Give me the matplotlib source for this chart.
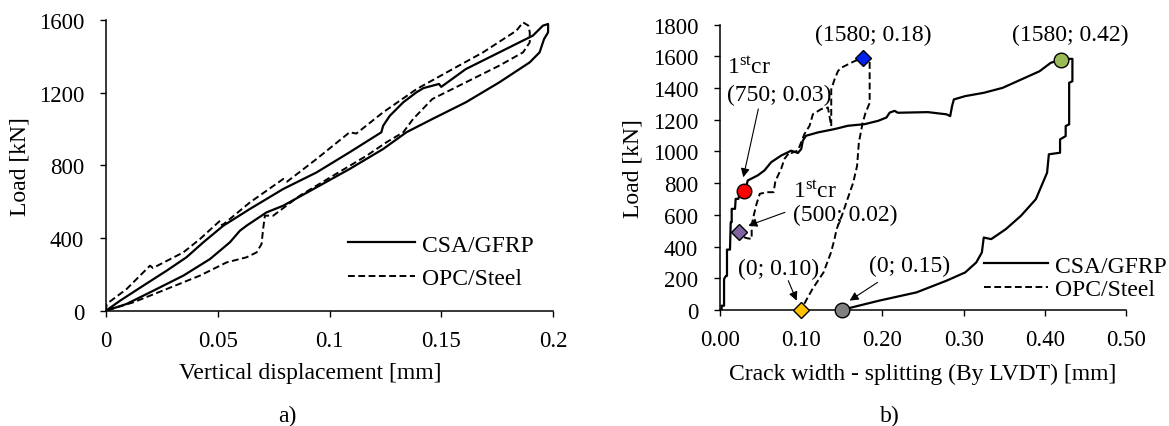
import numpy as np
import matplotlib
matplotlib.use('Agg')
import matplotlib.pyplot as plt

plt.rcParams['font.family'] = ['Liberation Serif', 'DejaVu Serif']
plt.rcParams['mathtext.default'] = 'regular'
plt.rcParams['font.size'] = 17

# ---- a) load vs vertical displacement ----
csa_disp = [0, 0.0063, 0.0167, 0.0271, 0.036, 0.0435, 0.0525, 0.0644, 0.0793, 0.0942, 0.109, 0.1232,
            0.124, 0.127, 0.133, 0.1389, 0.142, 0.149, 0.150, 0.161, 0.176, 0.191, 0.1955, 0.1978, 0.1978,
            0.196, 0.194, 0.1896, 0.176, 0.161, 0.146, 0.1344, 0.124, 0.109, 0.0942, 0.0793, 0.0718,
            0.0629, 0.0599, 0.0554, 0.0465, 0.0346, 0.0197, 0.0092, 0]
csa_load = [0, 55, 138, 220, 294, 376, 468, 560, 670, 761, 872, 982,
            1018, 1073, 1147, 1202, 1225, 1248, 1232, 1330, 1422, 1514, 1569, 1578, 1532,
            1495, 1422, 1367, 1257, 1147, 1055, 982, 890, 780, 679, 578, 541,
            468, 440, 376, 284, 193, 101, 37, 0]

opc_disp = [0, 0.0003, 0.0092, 0.0197, 0.021, 0.0346, 0.042, 0.051, 0.052, 0.0644, 0.0793, 0.081,
            0.0942, 0.109, 0.112, 0.124, 0.139, 0.1538, 0.1687, 0.1836, 0.1866, 0.189, 0.1896, 0.1896,
            0.1866, 0.176, 0.161, 0.146, 0.1374, 0.133, 0.1255, 0.1166, 0.1016, 0.0867, 0.0748,
            0.0711, 0.0703, 0.0696, 0.0674, 0.0629, 0.054, 0.042, 0.0271, 0.0122, 0]
opc_load = [0, 37, 119, 248, 235, 321, 394, 495, 470, 596, 725, 710,
            835, 982, 975, 1092, 1220, 1321, 1422, 1541, 1587, 1569, 1532, 1477,
            1422, 1349, 1257, 1165, 1055, 982, 927, 853, 743, 633, 523,
            523, 450, 367, 321, 294, 266, 193, 119, 46, 0]

# ---- b) load vs crack width ----
csa_crack = [0.002, 0.002, 0.005, 0.005, 0.0074, 0.0086, 0.0086, 0.0123, 0.0132, 0.0144, 0.0144,
             0.0185, 0.0193, 0.0226, 0.0247, 0.0309, 0.0342, 0.0465, 0.0547, 0.063, 0.0753, 0.0877,
             0.0959, 0.1, 0.102, 0.106, 0.1206, 0.141, 0.1576, 0.178, 0.1947, 0.205, 0.209, 0.215,
             0.219, 0.256, 0.279, 0.2835, 0.2858, 0.288, 0.302, 0.325, 0.348, 0.3706, 0.3936, 0.4073,
             0.4197, 0.430, 0.434, 0.434, 0.430, 0.430, 0.4257, 0.4257, 0.4188, 0.4188, 0.405, 0.4028,
             0.389, 0.3706, 0.352, 0.334, 0.3248, 0.3225, 0.3156, 0.302, 0.279, 0.242, 0.196, 0.1495]
csa_crack_load = [0, 27, 27, 196, 215, 215, 381, 381, 554, 554, 638,
                  638, 701, 701, 743, 751, 817, 849, 880, 932, 974, 1005,
                  990, 1015, 1068, 1099, 1120, 1141, 1162, 1172, 1193, 1214, 1245, 1256,
                  1244, 1248, 1234, 1223, 1286, 1328, 1349, 1370, 1401, 1453, 1506, 1559,
                  1578, 1584, 1584, 1443, 1433, 1171, 1160, 1097, 1076, 992, 982, 866,
                  699, 594, 510, 447, 457, 363, 300, 237, 185, 111, 59, 0]

opc_crack = [0.0206, 0.0247, 0.033, 0.039, 0.039, 0.041, 0.045, 0.049, 0.0576, 0.066, 0.068,
             0.0695, 0.0753, 0.0794, 0.0856, 0.0877, 0.0959, 0.104, 0.1103, 0.1144, 0.1247, 0.1329,
             0.1370, 0.1370, 0.1411, 0.1453, 0.1494, 0.1576, 0.1658, 0.1753, 0.1843, 0.1843,
             0.1790, 0.1757, 0.171, 0.1688, 0.164, 0.157, 0.150, 0.1436, 0.141, 0.1367, 0.1275,
             0.1138, 0.0995]
opc_crack_load = [501, 469, 453, 448, 533, 585, 669, 733, 743, 743, 806,
                  827, 890, 953, 995, 990, 1005, 1110, 1162, 1235, 1267, 1277,
                  1160, 1392, 1455, 1507, 1528, 1549, 1570, 1587, 1570, 1306,
                  1240, 1181, 1055, 908, 803, 699, 594, 510, 447, 363, 237,
                  132, 0]

# marked points on b)
marks_x = [0.030, 0.024, 0.1757, 0.420, 0.100, 0.150]
marks_y = [750, 490, 1589, 1578, 0, 0]
marks_c = ['#FF0000', '#8064A2', '#0022EE', '#9BBB59', '#FFC000', '#808080']
marks_m = ['o', 'D', 'D', 'o', 'D', 'o']

W, H = 1169, 427
fig = plt.figure(figsize=(W / 100, H / 100), dpi=100)
ax1 = fig.add_axes([106 / W, 1 - 311.7 / H, 447 / W, 290.7 / H])
ax2 = fig.add_axes([720 / W, 1 - 311 / H, 406 / W, 285.4 / H])

dash = (0, (3.5, 1.8))
for ax in (ax1, ax2):
    ax.spines['top'].set_visible(False)
    ax.spines['right'].set_visible(False)
    ax.tick_params(direction='out', length=4.2, width=1, labelsize=16.5)
    ax.tick_params(axis='x', pad=9.5)
    ax.tick_params(axis='y', pad=11.5)
    ax.spines['left'].set_linewidth(1.1)
    ax.spines['bottom'].set_linewidth(1.1)

ax1.plot(csa_disp, csa_load, color='black', lw=1.6, label='CSA/GFRP')
ax1.plot(opc_disp, opc_load, color='black', lw=1.4, ls=dash, label='OPC/Steel')
ax1.set_xlim(0, 0.2)
ax1.set_ylim(0, 1600)
ax1.set_xticks([0, 0.05, 0.1, 0.15, 0.2])
ax1.set_xticklabels(['0', '0.05', '0.1', '0.15', '0.2'])
ax1.set_yticks(np.arange(0, 1601, 400))
ax1.set_xlabel('Vertical displacement [mm]', fontsize=17, va='center')
ax1.xaxis.set_label_coords(310 / W, 1 - 374 / H, transform=fig.transFigure)
ax1.set_ylabel('Load [kN]', fontsize=17, va='center')
ax1.yaxis.set_label_coords(20 / W, 1 - 167 / H, transform=fig.transFigure)
ax1.legend(frameon=False, loc='upper left', bbox_to_anchor=(348 / W, 1 - 235 / H),
           bbox_transform=fig.transFigure, borderpad=0, borderaxespad=0, handlelength=2.85,
           fontsize=17, labelspacing=0.5, handletextpad=0.3)

ax2.plot(csa_crack, csa_crack_load, color='black', lw=1.6, label='CSA/GFRP', zorder=2)
ax2.plot(opc_crack, opc_crack_load, color='black', lw=1.4, ls=dash, label='OPC/Steel', zorder=2)
for x, y, c, m in zip(marks_x, marks_y, marks_c, marks_m):
    ax2.plot(x, y, marker=m, color=c, markeredgecolor='black', markeredgewidth=1,
             markersize=10.5 if m == 'o' else 8.5, ls='none', zorder=5, clip_on=False)
ax2.set_xlim(0, 0.5)
ax2.set_ylim(0, 1800)
ax2.set_xticks(np.arange(0, 0.51, 0.1))
ax2.set_xticklabels(['%.2f' % v for v in np.arange(0, 0.51, 0.1)])
ax2.set_yticks(np.arange(0, 1801, 200))
ax2.set_xlabel('Crack width - splitting (By LVDT) [mm]', fontsize=17, va='center')
ax2.xaxis.set_label_coords(923 / W, 1 - 374 / H, transform=fig.transFigure)
ax2.set_ylabel('Load [kN]', fontsize=17, va='center')
ax2.yaxis.set_label_coords(633 / W, 1 - 169 / H, transform=fig.transFigure)
ax2.legend(frameon=False, loc='upper left', bbox_to_anchor=(984 / W, 1 - 256 / H),
           bbox_transform=fig.transFigure, borderpad=0, borderaxespad=0, handlelength=2.7,
           fontsize=17, labelspacing=0.1, handletextpad=0.3)

arrow = dict(arrowstyle='-|>', color='black', lw=0.8, mutation_scale=13, shrinkA=0, shrinkB=0)
ax2.text(0.0086, 1533, r'1$^{st}$cr', ha='left', va='center', fontsize=17)
ax2.text(0.0086, 1362, '(750; 0.03)', ha='left', va='center', fontsize=17)
ax2.annotate('', xy=(0.0287, 837), xytext=(0.0472, 1268), arrowprops=arrow)
ax2.text(0.0899, 752, r'1$^{st}$cr', ha='left', va='center', fontsize=17)
ax2.text(0.0899, 605, '(500; 0.02)', ha='left', va='center', fontsize=17)
ax2.annotate('', xy=(0.0349, 532), xytext=(0.080, 616), arrowprops=arrow)
ax2.text(0.189, 1741, '(1580; 0.18)', ha='center', va='center', fontsize=17)
ax2.text(0.431, 1741, '(1580; 0.42)', ha='center', va='center', fontsize=17)
ax2.text(0.0727, 265, '(0; 0.10)', ha='center', va='center', fontsize=17)
ax2.annotate('', xy=(0.0944, 59), xytext=(0.0841, 185), arrowprops=arrow)
ax2.text(0.233, 280, '(0; 0.15)', ha='center', va='center', fontsize=17)
ax2.annotate('', xy=(0.1596, 59), xytext=(0.194, 174), arrowprops=arrow)

fig.text(287 / W, 1 - 416 / H, 'a)', ha='center', va='center', fontsize=17)
fig.text(890 / W, 1 - 416 / H, 'b)', ha='center', va='center', fontsize=17)

fig.savefig('out.png', dpi=100)
